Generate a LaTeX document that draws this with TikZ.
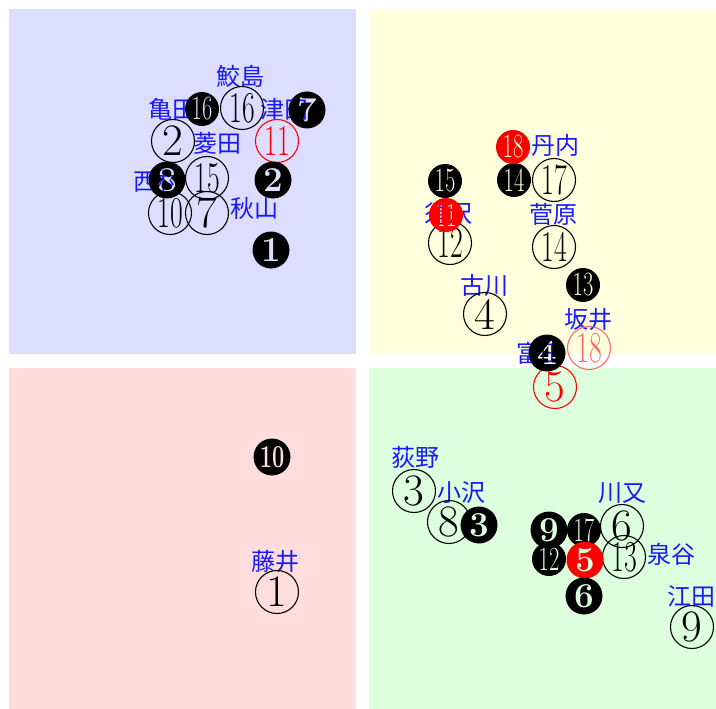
\documentclass[tikz,border=0pt]{standalone}
\usepackage{fontspec}
\usepackage{graphicx}
\newfontfamily\jpfont{Noto Sans CJK JP}
\usetikzlibrary{fadings}
\definecolor{panelA}{RGB}{221,221,255}
\definecolor{panelB}{RGB}{255,255,221}
\definecolor{panelC}{RGB}{255,221,221}
\definecolor{panelD}{RGB}{221,255,221}
\definecolor{lblue}{RGB}{25,25,255}
\definecolor{pinkred}{RGB}{255,105,105}

\newcommand{\wone}[1]{{\fontsize{45}{45}\selectfont #1}}
\newcommand{\wtwo}[1]{{\fontsize{44}{44}\selectfont\scalebox{0.63}[1]{#1}}}
\newcommand{\bone}[1]{{\fontsize{35}{35}\selectfont\bfseries #1}}
\newcommand{\bten}[1]{{\fontsize{32}{32}\selectfont\bfseries\scalebox{0.68}[1]{#1}}}
\newcommand{\btwo}[1]{{\fontsize{34}{34}\selectfont\scalebox{0.66}[1]{#1}}}

% fading: opaque disc with the number cut out, at natural size
\newcommand{\mkfade}[3]{%
  \begin{tikzfadingfrompicture}[name=#1]
    \fill[transparent!0] (0pt,0pt) circle[radius=#2];
    \node[text=transparent!100,inner sep=0pt] at (0pt,0pt) {#3};
  \end{tikzfadingfrompicture}}

\mkfade{fA11}{17.5pt}{\btwo{11}}
\mkfade{fA12}{17.5pt}{\btwo{12}}
\mkfade{fA13}{17.5pt}{\btwo{13}}
\mkfade{fA14}{17.5pt}{\btwo{14}}
\mkfade{fA15}{17.5pt}{\btwo{15}}
\mkfade{fA16}{17.5pt}{\btwo{16}}
\mkfade{fA17}{17.5pt}{\btwo{17}}
\mkfade{fA18}{17.5pt}{\btwo{18}}
\mkfade{fB1}{19pt}{\bone{1}}
\mkfade{fB2}{19pt}{\bone{2}}
\mkfade{fB3}{19pt}{\bone{3}}
\mkfade{fB4}{19pt}{\bone{4}}
\mkfade{fB5}{19pt}{\bone{5}}
\mkfade{fB6}{19pt}{\bone{6}}
\mkfade{fB7}{19pt}{\bone{7}}
\mkfade{fB8}{19pt}{\bone{8}}
\mkfade{fB9}{19pt}{\bone{9}}
\mkfade{fB10}{19pt}{\bten{10}}

\tikzset{
  lbl/.style={font={\jpfont\fontsize{24}{24}\selectfont}, text=lblue, inner sep=0pt},
  wc/.style={circle, draw=black, line width=1.1pt, minimum size=43pt, inner sep=0pt},
  redc/.style={wc, draw=red, text=red},
  pinkc/.style={wc, draw=pinkred, text=pinkred},
}
% filled circled number: colour, fading, x, y, radius
\newcommand{\negc}[5]{%
  \fill[#1, path fading=#2, fit fading=false, fading transform={shift={(#3,#4)}}]
    (#3,#4) circle[radius=#5];}

\begin{document}
\begin{tikzpicture}[x=1pt,y=-1pt]
\useasboundingbox (0,0) rectangle (716,709);
% panels
\fill[panelA] (9,9) rectangle (356,354);
\fill[panelB] (369,9) rectangle (716,354);
\fill[panelC] (9,368) rectangle (356,709);
\fill[panelD] (369,368) rectangle (716,709);

% labels
\node[lbl] (l1) at (240,76) {鮫島};
\node[lbl] (l2) at (172,109) {亀田};
\node[lbl] (l3) at (284,109) {津田};
\node[lbl] (l4) at (217,143) {菱田};
\node[lbl] (l5) at (157,181) {西村};
\node[lbl] (l6) at (254,208) {秋山};
\node[lbl] (l7) at (555,145) {丹内};
\node[lbl] (l8) at (448,214) {須沢};
\node[lbl] (l9) at (553,214) {菅原};
\node[lbl] (l10) at (484,285) {古川};
\node[lbl] (l11) at (588,320) {坂井};
\node[lbl] (l12) at (540,353) {富田};
\node[lbl] (l13) at (275,561) {藤井};
\node[lbl] (l14) at (415,457) {荻野};
\node[lbl] (l15) at (461,493) {小沢};
\node[lbl] (l16) at (622,493) {川又};
\node[lbl] (l17) at (671,554) {泉谷};
\node[lbl] (l18) at (691,596) {江田};

% outlined circled numbers
\node[wc] (w16) at (242,108) {\wtwo{16}};
\node[wc] (w2) at (173,141) {\wone{2}};
\node[redc] (w11) at (277,141) {\wtwo{11}};
\node[wc] (w15) at (207,178) {\wtwo{15}};
\node[wc] (w10) at (170,213) {\wtwo{10}};
\node[wc] (w7) at (207,213) {\wone{7}};
\node[wc] (w17) at (554,180) {\wtwo{17}};
\node[wc] (w12) at (450,243) {\wtwo{12}};
\node[wc] (w14) at (554,247) {\wtwo{14}};
\node[wc] (w4) at (485,314) {\wone{4}};
\node[pinkc] (w18) at (589,348) {\wtwo{18}};
\node[redc] (w5) at (555,387) {\wone{5}};
\node[wc] (w1) at (277,592) {\wone{1}};
\node[wc] (w3) at (414,491) {\wone{3}};
\node[wc] (w8) at (449,522) {\wone{8}};
\node[wc] (w6) at (622,526) {\wone{6}};
\node[wc] (w13) at (624,557) {\wtwo{13}};
\node[wc] (w9) at (692,627) {\wone{9}};

% filled circled numbers, digits cut out
\negc{black}{fA16}{202}{109}{17}
\negc{black}{fB7}{307}{110}{18.5}
\negc{black}{fB2}{273}{180}{18.5}
\negc{black}{fB8}{167}{180}{18.5}
\negc{black}{fB1}{271}{250}{18.5}
\negc{black}{fA14}{514}{180}{17}
\negc{red}{fA18}{513}{147}{17}
\negc{black}{fA15}{445}{181}{17}
\negc{red}{fA11}{446}{215}{17}
\negc{black}{fA13}{583}{285}{17}
\negc{black}{fB4}{547}{353}{18.5}
\negc{black}{fB10}{272}{457}{18.5}
\negc{black}{fB3}{479}{525}{18.5}
\negc{black}{fB9}{549}{530}{18.5}
\negc{black}{fA17}{584}{530}{17}
\negc{black}{fA12}{549}{559}{17}
\negc{red}{fB5}{585}{560}{18.5}
\negc{black}{fB6}{584}{596}{18.5}
\end{tikzpicture}
\end{document}
